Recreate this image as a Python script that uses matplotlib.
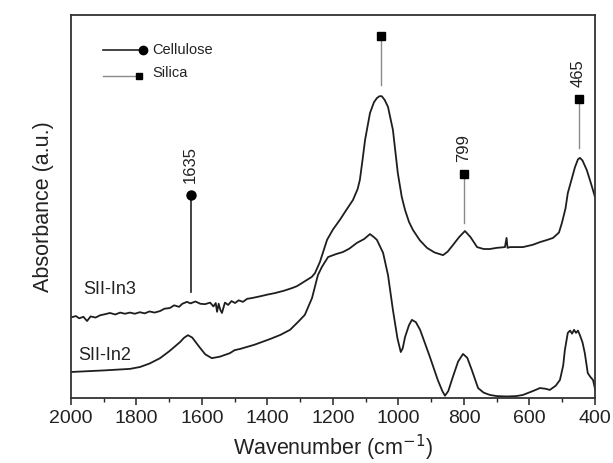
import matplotlib.pyplot as plt
from matplotlib.ticker import MultipleLocator

plt.rcParams['font.family'] = ['Liberation Sans', 'DejaVu Sans']

# SII-In3 spectrum (upper trace), absorbance in arbitrary units
in3_wn = [1997, 1985, 1975, 1962, 1951, 1940, 1925, 1911, 1895, 1881, 1865, 1850,
          1835, 1820, 1805, 1790, 1775, 1760, 1745, 1728, 1715, 1698, 1685, 1670,
          1660, 1646, 1635, 1620, 1605, 1591, 1575, 1565, 1558, 1554, 1549, 1544,
          1539, 1530, 1520, 1510, 1499, 1488, 1475, 1462, 1447, 1420, 1400, 1377,
          1350, 1325, 1310, 1295, 1280, 1265, 1255, 1240, 1218, 1200, 1179,
          1160, 1139, 1125, 1118, 1110, 1102, 1087, 1075, 1066, 1058, 1051, 1042,
          1032, 1017, 1002, 990, 980, 968, 956, 935, 913, 890, 864, 850, 834, 815,
          797, 780, 760, 740, 721, 700, 675, 670, 667, 660, 620, 590, 568, 545,
          528, 510, 501, 490, 483, 470, 461, 452, 446, 438, 425, 415, 409, 400]
in3_abs = [21.1, 21.4, 20.8, 21.2, 20.1, 21.3, 21.0, 21.6, 21.9, 22.2, 21.8, 22.3,
           22.0, 22.3, 22.0, 22.4, 22.1, 22.6, 22.3, 22.7, 23.3, 23.5, 24.2, 23.8,
           24.6, 25.1, 24.7, 25.2, 24.6, 24.5, 24.9, 23.9, 24.8, 22.5, 24.6, 23.0,
           22.2, 24.9, 24.3, 25.3, 24.8, 25.5, 25.1, 25.9, 26.1, 26.6, 27.0, 27.4,
           28.0, 28.7, 29.2, 30.0, 30.8, 31.6, 32.6, 35.5, 41.3, 44.0, 46.5,
           49.0, 51.7, 54.5, 56.9, 62.0, 67.4, 74.4, 77.2, 78.3, 78.8, 78.8, 77.8,
           76.0, 70.0, 58.7, 52.5, 49.1, 46.0, 43.9, 41.2, 39.2, 38.0, 37.3, 38.2,
           39.9, 42.0, 43.6, 42.0, 39.4, 38.9, 38.9, 39.2, 39.4, 41.8, 39.2, 39.4,
           39.4, 40.0, 40.7, 41.3, 41.8, 43.2, 45.7, 49.5, 53.5, 57.5, 60.3, 62.3,
           62.7, 62.0, 59.5, 56.8, 55.1, 52.5]

# SII-In2 spectrum (lower trace)
in2_wn = [1997, 1900, 1820, 1789, 1760, 1728, 1700, 1667, 1655, 1643, 1630, 1606,
          1590, 1570, 1545, 1515, 1500, 1484, 1440, 1392, 1360, 1331, 1305, 1286,
          1264, 1246, 1234, 1215, 1190, 1170, 1150, 1127, 1105, 1087, 1075, 1066,
          1047, 1032, 1017, 1003, 993, 987, 980, 968, 959, 947, 934, 920, 904, 880,
          866, 858, 848, 834, 818, 803, 790, 776, 757, 740, 721, 700, 669, 640,
          620, 590, 568, 550, 538, 520, 507, 497, 492, 483, 476, 470, 464, 458,
          452, 446, 438, 431, 422, 414, 406, 397]
in2_abs = [6.8, 7.2, 7.6, 8.1, 9.0, 10.4, 12.2, 14.6, 15.7, 16.4, 15.8, 13.1,
           11.4, 10.4, 10.8, 11.7, 12.5, 12.8, 13.9, 15.4, 16.5, 17.8, 20.0, 21.7,
           26.1, 32.1, 34.2, 36.8, 37.6, 38.1, 39.0, 40.5, 41.5, 42.8, 42.0, 41.3,
           37.9, 32.1, 23.0, 15.5, 12.0, 13.0, 15.9, 19.0, 20.4, 19.8, 17.8, 14.5,
           10.7, 4.7, 1.8, 0.6, 1.8, 5.5, 9.5, 11.5, 10.5, 7.3, 2.6, 1.4, 0.8, 0.5,
           0.4, 0.5, 0.8, 1.8, 2.6, 2.4, 2.1, 3.2, 4.7, 8.5, 12.5, 17.0, 17.6, 16.8,
           17.8, 17.0, 17.6, 16.4, 14.5, 11.7, 6.5, 5.5, 4.7, 1.3]

# peak markers: band position, marker height, line bottom, label
cell_wn, cell_top, cell_bot, cell_lbl = 1635, 53.0, 27.7, '1635'
sil_wn = [1054, 800, 450]
sil_top = [94.5, 58.5, 78.1]
sil_bot = [81.7, 45.7, 65.3]
sil_lbl = ['', '799', '465']

fig = plt.figure(figsize=(6.13, 4.63), dpi=100)
ax = fig.add_axes([0.1158, 0.1404, 0.8548, 0.8272])

ax.plot(in3_wn, in3_abs, color='#1e1e1e', lw=1.3)
ax.plot(in2_wn, in2_abs, color='#1e1e1e', lw=1.3)

# cellulose band
ax.plot([cell_wn, cell_wn], [cell_bot, cell_top], color='#222222', lw=1.2)
ax.plot(cell_wn, cell_top, marker='o', color='black', ms=6.5, ls='none')
ax.text(cell_wn, cell_top + 3.2, cell_lbl, rotation=90, ha='center', va='bottom',
        fontsize=12, color='#222222')

# silica bands
for wn, top, bot, lbl in zip(sil_wn, sil_top, sil_bot, sil_lbl):
    ax.plot([wn, wn], [bot, top], color='#8a8a8a', lw=1.0)
    ax.plot(wn, top, marker='s', color='black', ms=5.5, ls='none')
    if lbl:
        ax.text(wn, top + 3.2, lbl, rotation=90, ha='center', va='bottom',
                fontsize=12, color='#222222')

# sample labels
ax.text(1963, 28.2, 'SII-In3', fontsize=13, va='center', ha='left', color='#222222')
ax.text(1979, 11.2, 'SII-In2', fontsize=13, va='center', ha='left', color='#222222')

# hand-drawn legend
tr = ax.transAxes
ax.plot([0.061, 0.132], [0.909, 0.909], color='#222222', lw=1.2, transform=tr)
ax.plot(0.137, 0.909, marker='o', color='black', ms=6, transform=tr)
ax.text(0.156, 0.909, 'Cellulose', fontsize=10.5, va='center', transform=tr, color='#222222')
ax.plot([0.061, 0.128], [0.841, 0.841], color='#8a8a8a', lw=1.0, transform=tr)
ax.plot(0.129, 0.841, marker='s', color='black', ms=5, transform=tr)
ax.text(0.156, 0.848, 'Silica', fontsize=10.5, va='center', transform=tr, color='#222222')

ax.set_xlim(2000, 400)
ax.set_ylim(0, 100)
ax.xaxis.set_major_locator(MultipleLocator(200))
ax.xaxis.set_minor_locator(MultipleLocator(100))
ax.tick_params(axis='x', which='major', direction='out', length=5, width=1.1,
               labelsize=14, colors='#222222', pad=4)
ax.tick_params(axis='x', which='minor', direction='out', length=3, width=1.0, colors='#222222')
ax.tick_params(axis='y', left=False, labelleft=False)
for s in ax.spines.values():
    s.set_color('#333333')
    s.set_linewidth(1.3)

ax.set_xlabel('Wavenumber (cm$^{-1}$)', fontsize=15.5, color='#222222', labelpad=4)
ax.set_ylabel('Absorbance (a.u.)', fontsize=15.5, color='#222222', labelpad=12)

fig.savefig('out.png', dpi=100)
